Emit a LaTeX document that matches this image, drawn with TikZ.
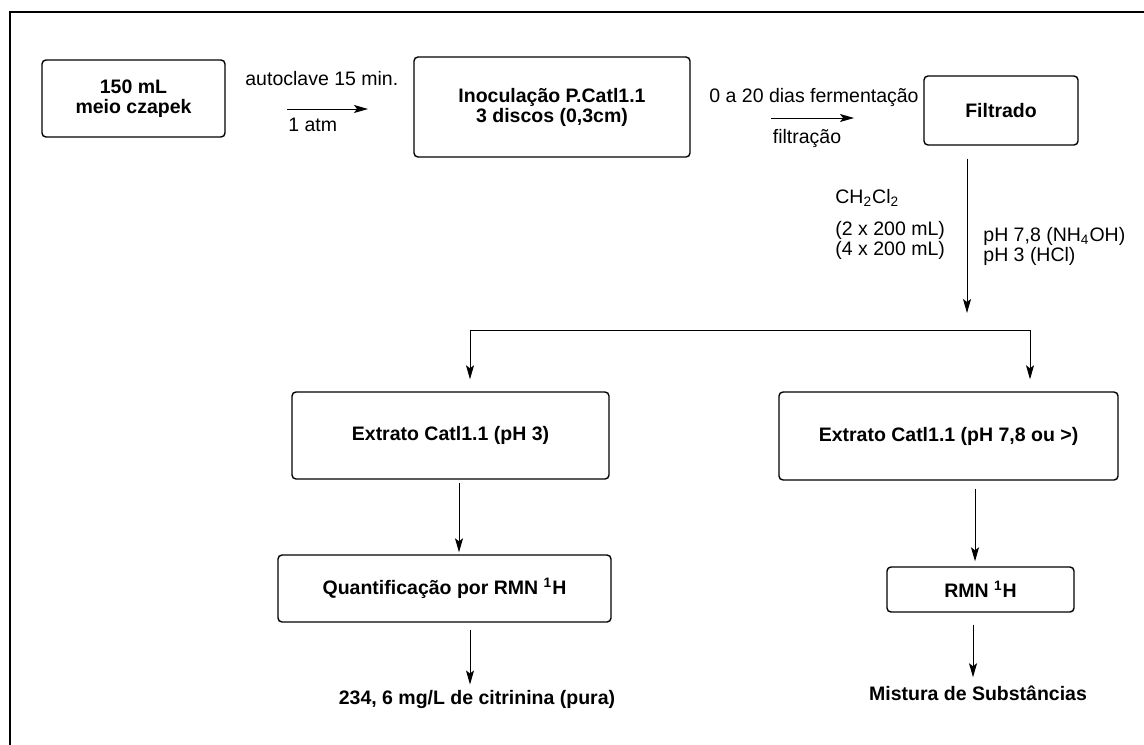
\documentclass[tikz,border=0pt]{standalone}
\usepackage{fontspec}
\setmainfont{Liberation Sans}
\usepackage{tikz}
\usetikzlibrary{arrows.meta, calc}

\begin{document}
\begin{tikzpicture}[
    x=0.5pt, y=-0.5pt,
    font=\fontsize{9.75pt}{10pt}\selectfont,
    box/.style={draw, line width=0.7pt, rounded corners=2pt, align=center, inner sep=0pt, font=\fontsize{9.75pt}{10pt}\selectfont\bfseries},
    lbl/.style={inner sep=0pt, anchor=west},
    res/.style={inner sep=1pt, font=\fontsize{9.75pt}{10pt}\selectfont\bfseries},
    arr/.style={-{Stealth[length=7pt, width=4pt, inset=1.5pt]}, line width=0.5pt},
]
\clip (0,0) rectangle (1144,744);
\draw[line width=1pt] (10,12) rectangle (1170,770);

% === Row 0: culture ===
\node[box, minimum width=91.5pt, minimum height=38.5pt] (czapek) at (133.5,98.5) {150 mL\\meio czapek};
\node[box, minimum width=138pt, minimum height=50pt] (inoc) at (552,107) {Inoculação P.Catl1.1\\3 discos (0,3cm)};
\node[box, minimum width=77pt, minimum height=34.5pt] (filt) at (1001,110.5) {Filtrado};

% arrows between boxes
\coordinate (a1s) at (287,109);
\coordinate (a1e) at (368,109);
\draw[arr] (a1s) -- (a1e);
\node[lbl] (autocl) at (245,79) {autoclave 15 min.};
\node[lbl] (atm) at (288,125) {1 atm};

\coordinate (a2s) at (771,118);
\coordinate (a2e) at (854,118);
\draw[arr] (a2s) -- (a2e);
\node[inner sep=0pt] (ferm) at (814,97) {0 a 20 dias fermentação};
\node[inner sep=0pt] (filtr) at (807,138) {filtração};

% === Row 1: extraction ===
\coordinate (split) at (967,313);
\draw[arr, shorten <=6.5pt] ([xshift=-17pt]filt.south) -- (split);
\node[lbl] (solv) at (835,198) {CH\textsubscript{2}Cl\textsubscript{2}};
\node[lbl] (vol1) at (835,230) {(2 x 200 mL)};
\node[lbl] (vol2) at (835,250) {(4 x 200 mL)};
\node[lbl] (ph1) at (983,236) {pH 7,8 (NH\textsubscript{4}OH)};
\node[lbl] (ph2) at (983,256) {pH 3 (HCl)};

% === Row 2: two extracts ===
\node[box, minimum width=158.5pt, minimum height=43.5pt] (extA) at (450.5,435.5) {Extrato Catl1.1 (pH 3)};
\node[box, minimum width=169.5pt, minimum height=44pt] (extB) at (948.5,436) {Extrato Catl1.1 (pH 7,8 ou >)};

\coordinate (brL) at (470,330);
\coordinate (brR) at (1030,330);
\draw[line width=0.5pt] (brL) -- (brR);
\draw[arr, shorten >=6pt] (brL) -- (brL |- extA.north);
\draw[arr, shorten >=6pt] (brR) -- (brR |- extB.north);

% === Row 3: NMR ===
\node[box, minimum width=166.5pt, minimum height=33.5pt] (quant) at (444.5,588.5) {Quantificação por RMN \textsuperscript{1}H};
\node[box, minimum width=93.5pt, minimum height=22.5pt] (rmn) at (980.5,589.5) {RMN \textsuperscript{1}H};

\draw[arr, shorten <=1.5pt, shorten >=1pt] ([xshift=4.25pt]extA.south) -- ([xshift=4.25pt]extA.south |- quant.north);
\draw[arr, shorten <=4pt, shorten >=2.5pt] ([xshift=13.25pt]extB.south) -- ([xshift=13.25pt]extB.south |- rmn.north);

% === Row 4: results ===
\node[res] (resA) at (477,699) {234, 6 mg/L de citrinina (pura)};
\node[res] (resB) at (978,693) {Mistura de Substâncias};

\draw[arr, shorten <=3.5pt, shorten >=1.5pt] ([xshift=12.75pt]quant.south) -- ([xshift=12.75pt]quant.south |- resA.north);
\draw[arr, shorten <=6pt, shorten >=3pt] ([xshift=-3.75pt]rmn.south) -- ([xshift=-3.75pt]rmn.south |- resB.north);

\end{tikzpicture}
\end{document}
